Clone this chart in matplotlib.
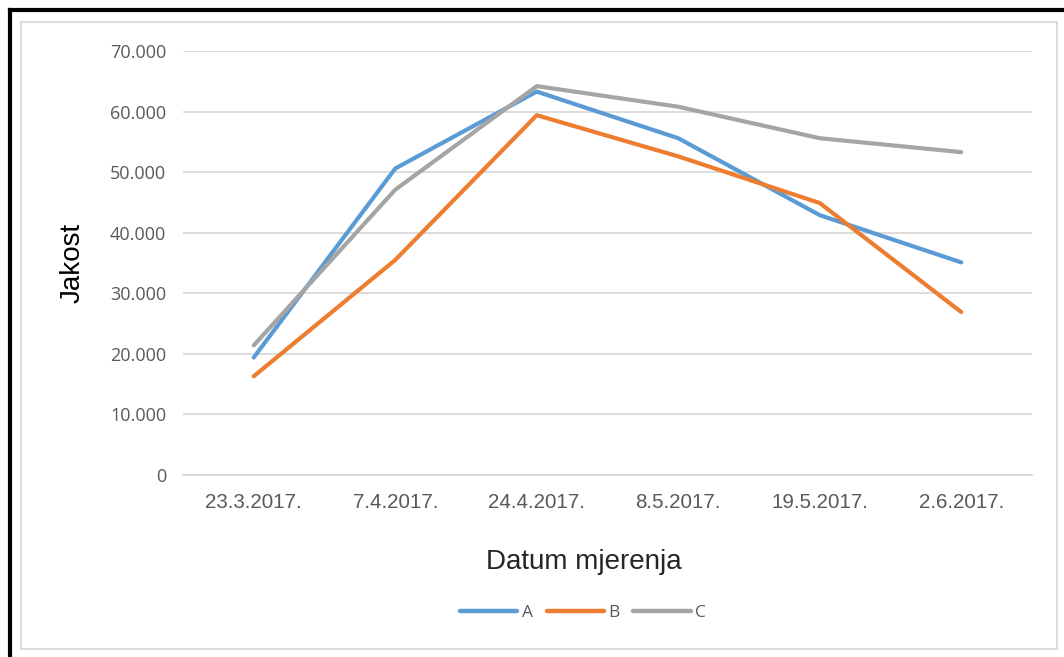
import matplotlib
matplotlib.use('Agg')
import matplotlib.pyplot as plt
from matplotlib.lines import Line2D
from matplotlib.patches import Rectangle
from matplotlib.ticker import FuncFormatter

# Data
dates = ['23.3.2017.', '7.4.2017.', '24.4.2017.', '8.5.2017.', '19.5.2017.', '2.6.2017.']
A = [19.4, 50.6, 63.3, 55.6, 42.9, 35.1]
B = [16.3, 35.5, 59.4, 52.6, 44.9, 26.9]
C = [21.4, 47.1, 64.2, 60.8, 55.6, 53.3]
series_names = ['A', 'B', 'C']
colors = ['#5B9BD5', '#ED7D31', '#A5A5A5']

plt.rcParams['font.family'] = ['Open Sans', 'DejaVu Sans']
arial = ['Liberation Sans', 'DejaVu Sans']

W, H = 1064, 657
fig = plt.figure(figsize=(W / 100, H / 100), dpi=100)
ax = fig.add_axes([183 / W, 1 - 475 / H, (1032 - 183) / W, (475 - 51) / H])

x = list(range(len(dates)))
for vals, name, col in zip([A, B, C], series_names, colors):
    ax.plot(x, vals, color=col, lw=3, label=name, solid_capstyle='round', solid_joinstyle='round')

ax.set_xlim(-0.5, len(dates) - 0.5)
ax.set_ylim(0, 70)
ax.set_yticks(range(0, 71, 10))
ax.yaxis.set_major_formatter(FuncFormatter(lambda v, p: '0' if v == 0 else '%d.000' % v))
ax.set_xticks(x)
ax.set_xticklabels(dates, family=arial, fontsize=14.8)
ax.grid(axis='y', color='#D9D9D9', lw=1.3)
ax.set_axisbelow(True)
for s in ['top', 'right', 'left']:
    ax.spines[s].set_visible(False)
ax.spines['bottom'].set_color('#D9D9D9')
ax.spines['bottom'].set_linewidth(1.3)
ax.tick_params(axis='y', length=0, labelsize=13, colors='#595959', pad=12)
ax.tick_params(axis='x', length=0, colors='#595959', pad=13)

ax.set_ylabel('Jakost', fontsize=20, family=arial, color='black', labelpad=18)
ax.set_xlabel('Datum mjerenja', fontsize=20, family=arial, color='#262626', labelpad=22)
ax.xaxis.set_label_coords(0.472, -0.175)

leg = fig.legend(loc='center', bbox_to_anchor=(583 / W, 1 - 613 / H), ncol=3, frameon=False,
                 fontsize=12.5, handlelength=3.3, handletextpad=0.25, columnspacing=0.8)
for t in leg.get_texts():
    t.set_color('#595959')
for h in leg.legend_handles:
    h.set_linewidth(3.2)

# chart area border and outer frame
fig.add_artist(Rectangle((21 / W, 1 - 649 / H), (1057 - 21) / W, (649 - 22) / H,
                         transform=fig.transFigure, fill=False, ec='#D9D9D9', lw=1.3))
fig.add_artist(Line2D([9.5 / W, 9.5 / W], [0, 1 - 9.5 / H], transform=fig.transFigure, color='black', lw=3))
fig.add_artist(Line2D([9.5 / W, 1], [1 - 9.5 / H, 1 - 9.5 / H], transform=fig.transFigure, color='black', lw=3))

fig.savefig('out.png', dpi=100)
